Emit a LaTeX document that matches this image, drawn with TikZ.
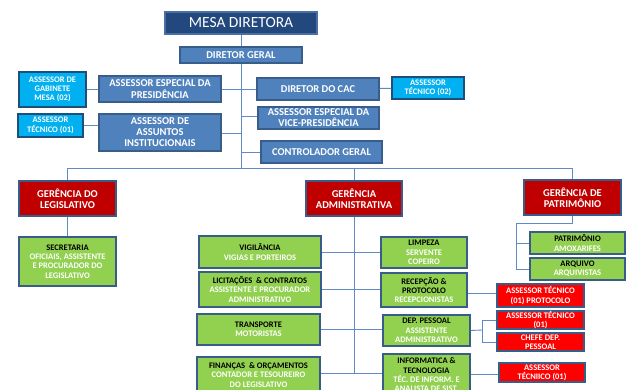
\documentclass[tikz,border=0pt]{standalone}
\usepackage{fontspec}
\setmainfont{Carlito}
\definecolor{mesac}{HTML}{23487D}
\definecolor{mesad}{HTML}{4A6FA5}
\definecolor{midc}{HTML}{4F81BD}
\definecolor{bordc}{HTML}{385D8A}
\definecolor{cyc}{HTML}{00B0F0}
\definecolor{cyd}{HTML}{1F4E79}
\definecolor{gerc}{HTML}{C00000}
\definecolor{grc}{HTML}{92D050}
\definecolor{rdc}{HTML}{FF0000}
\definecolor{lnc}{HTML}{5F8AC6}
\tikzset{
  bx/.style={draw=bordc, line width=1.3pt, align=center, inner sep=0pt, text=white,
    font=\bfseries\fontsize{10.5}{11}\selectfont},
  mid/.style={bx, fill=midc},
  sm/.style={bx, font=\bfseries\fontsize{8.5}{9.3}\selectfont},
  cy/.style={sm, fill=cyc, draw=cyd},
  ger/.style={bx, fill=gerc},
  gr/.style={sm, fill=grc},
  rd/.style={sm, fill=rdc},
  ln/.style={draw=lnc, line width=0.9pt},
}
\begin{document}
\begin{tikzpicture}[x=1pt,y=-1pt]
\useasboundingbox (0,0) rectangle (629,389);
\clip (0,0) rectangle (629,389);
% top part
\node[mid, fill=mesac, draw=mesad, minimum width=152pt, minimum height=22pt,
  font=\fontsize{15.5}{16}\selectfont] (mesa) at (241,23) {MESA DIRETORA};
\node[mid, minimum width=122pt, minimum height=16pt] (dg) at (241,55) {DIRETOR GERAL};
\node[cy, minimum width=67pt, minimum height=35pt] (gab) at (52.5,89.5) {ASSESSOR DE\\GABINETE\\MESA (02)};
\node[mid, minimum width=122pt, minimum height=26pt] (aep) at (160,89) {ASSESSOR ESPECIAL DA\\[1.5pt]PRESIDÊNCIA};
\node[cy, minimum width=65pt, minimum height=23pt] (at1) at (50.5,125.5) {ASSESSOR\\[1pt]TÉCNICO (01)};
\node[mid, minimum width=122pt, minimum height=37pt] (aai) at (160,132.5) {ASSESSOR DE\\ASSUNTOS\\INSTITUCIONAIS};
\node[mid, minimum width=122pt, minimum height=22pt] (cac) at (318,89) {DIRETOR DO CAC};
\node[cy, minimum width=72pt, minimum height=22pt] (at2) at (428,88) {ASSESSOR\\TÉCNICO (02)};
\node[mid, minimum width=121pt, minimum height=22pt] (avp) at (318.5,118) {ASSESSOR ESPECIAL DA\\VICE-PRESIDÊNCIA};
\node[mid, minimum width=121pt, minimum height=22pt] (cg) at (321.5,152) {CONTROLADOR GERAL};
% gerencias
\node[ger, minimum width=97pt, minimum height=35pt] (gl) at (67.5,198.5) {GERÊNCIA DO\\LEGISLATIVO};
\node[ger, minimum width=96pt, minimum height=35pt] (ga) at (354,198.5) {GERÊNCIA\\ADMINISTRATIVA};
\node[ger, minimum width=97pt, minimum height=35pt] (gp) at (572.5,197.5) {GERÊNCIA DE\\PATRIMÔNIO};
% legislativo
\node[gr, minimum width=97pt, minimum height=49pt] (sec) at (67.5,261.5) {{\color{black}SECRETARIA}\\OFICIAIS, ASSISTENTE\\E PROCURADOR DO\\LEGISLATIVO};
% administrativa left
\node[gr, minimum width=122pt, minimum height=32pt] (vig) at (260,252) {{\color{black}VIGILÂNCIA}\\VIGIAS E PORTEIROS};
\node[gr, minimum width=122pt, minimum height=35pt] (lic) at (260,289.5) {{\color{black}LICITAÇÕES \ \& CONTRATOS}\\ASSISTENTE E PROCURADOR\\ADMINISTRATIVO};
\node[gr, minimum width=123pt, minimum height=31pt] (tra) at (258.5,329.5) {{\color{black}TRANSPORTE}\\MOTORISTAS};
\node[gr, minimum width=123pt, minimum height=36pt] (fin) at (258.5,375) {{\color{black}FINANÇAS \ \& ORÇAMENTOS}\\CONTADOR E TESOUREIRO\\DO LEGISLATIVO};
% administrativa right
\node[gr, minimum width=86pt, minimum height=31pt] (lim) at (424,252.5) {{\color{black}LIMPEZA}\\SERVENTE\\COPEIRO};
\node[gr, minimum width=86pt, minimum height=34pt] (rec) at (424,290) {{\color{black}RECEPÇÃO \&}\\{\color{black}PROTOCOLO}\\RECEPCIONISTAS};
\node[gr, minimum width=87pt, minimum height=31pt] (dep) at (426.5,330.5) {{\color{black}DEP. PESSOAL}\\ASSISTENTE\\ADMINISTRATIVO};
\node[gr, minimum width=87pt, minimum height=42pt] (inf) at (426.5,375) {{\color{black}INFORMATICA \&}\\{\color{black}TECNOLOGIA}\\TÉC. DE INFORM. E\\ANALISTA DE SIST.};
% patrimonio
\node[gr, minimum width=95pt, minimum height=22pt] (pat) at (577.5,243) {{\color{black}PATRIMÔNIO}\\AMOXARIFES};
\node[gr, minimum width=95pt, minimum height=22pt] (arq) at (577.5,269) {{\color{black}ARQUIVO}\\ARQUIVISTAS};
% red
\node[rd, minimum width=87pt, minimum height=23pt] (r1) at (540.5,295.5) {ASSESSOR TÉCNICO\\(01) PROTOCOLO};
\node[rd, minimum width=87pt, minimum height=18pt] (r2) at (540.5,320) {ASSESSOR TÉCNICO\\(01)};
\node[rd, minimum width=87pt, minimum height=18pt] (r3) at (540.5,342) {CHEFE DEP.\\PESSOAL};
\node[rd, minimum width=86pt, minimum height=19pt] (r4) at (542,372.5) {ASSESSOR\\TÉCNIICO (01)};
% coordinates
\coordinate (bus) at (241,168);
\coordinate (gaend) at (354,373);
\coordinate (bk) at (482,330);
\coordinate (pk) at (516,223);
% connectors
\draw[ln] (mesa) -- (dg);
\draw[ln] (dg.south) -- (bus);
\draw[ln] (aep) -- (cac);
\draw[ln] (gab.east) -- (gab.east -| aep.west);
\draw[ln] (at1.east) -- (at1.east -| aai.west);
\draw[ln] (aai.east) ++(0,0.5) coordinate (aaie) -- (aaie -| bus);
\draw[ln] (avp.west) ++(0,-2) coordinate (avpw) -- (avpw -| bus);
\draw[ln] (cg.west) -- (cg.west -| bus);
\draw[ln] (cac) -- (at2);
\draw[ln] (gl.north) -- (gl.north |- bus) -- (gp.north |- bus) -- (gp.north);
\draw[ln] (ga.north) -- (ga.north |- bus);
\draw[ln] (gl) -- (sec);
\draw[ln] (ga.south) -- (gaend);
\draw[ln] (vig.east) -- (vig.east -| lim.west);
\draw[ln] (lic.east) -- (lic.east -| rec.west);
\draw[ln] (tra.east) -- (tra.east -| dep.west);
\draw[ln] (fin.east) ++(0,-2) coordinate (fine) -- (fine -| inf.west);
\draw[ln] (rec.east) ++(0,3) coordinate (rece) -- (rece -| r1.west);
\draw[ln] (dep.east) -- (bk);
\draw[ln] (r2.west) -- (r2.west -| bk) -- (r3.west -| bk) -- (r3.west);
\draw[ln] (inf.east) ++(0,-1) coordinate (infe) -- (infe -| r4.west);
\draw[ln] (gp.south) -- (gp.south |- pk) -- (pk) -- (pk |- arq.west) -- (arq.west);
\draw[ln] (pk |- pat.west) -- (pat.west);
\end{tikzpicture}
\end{document}
